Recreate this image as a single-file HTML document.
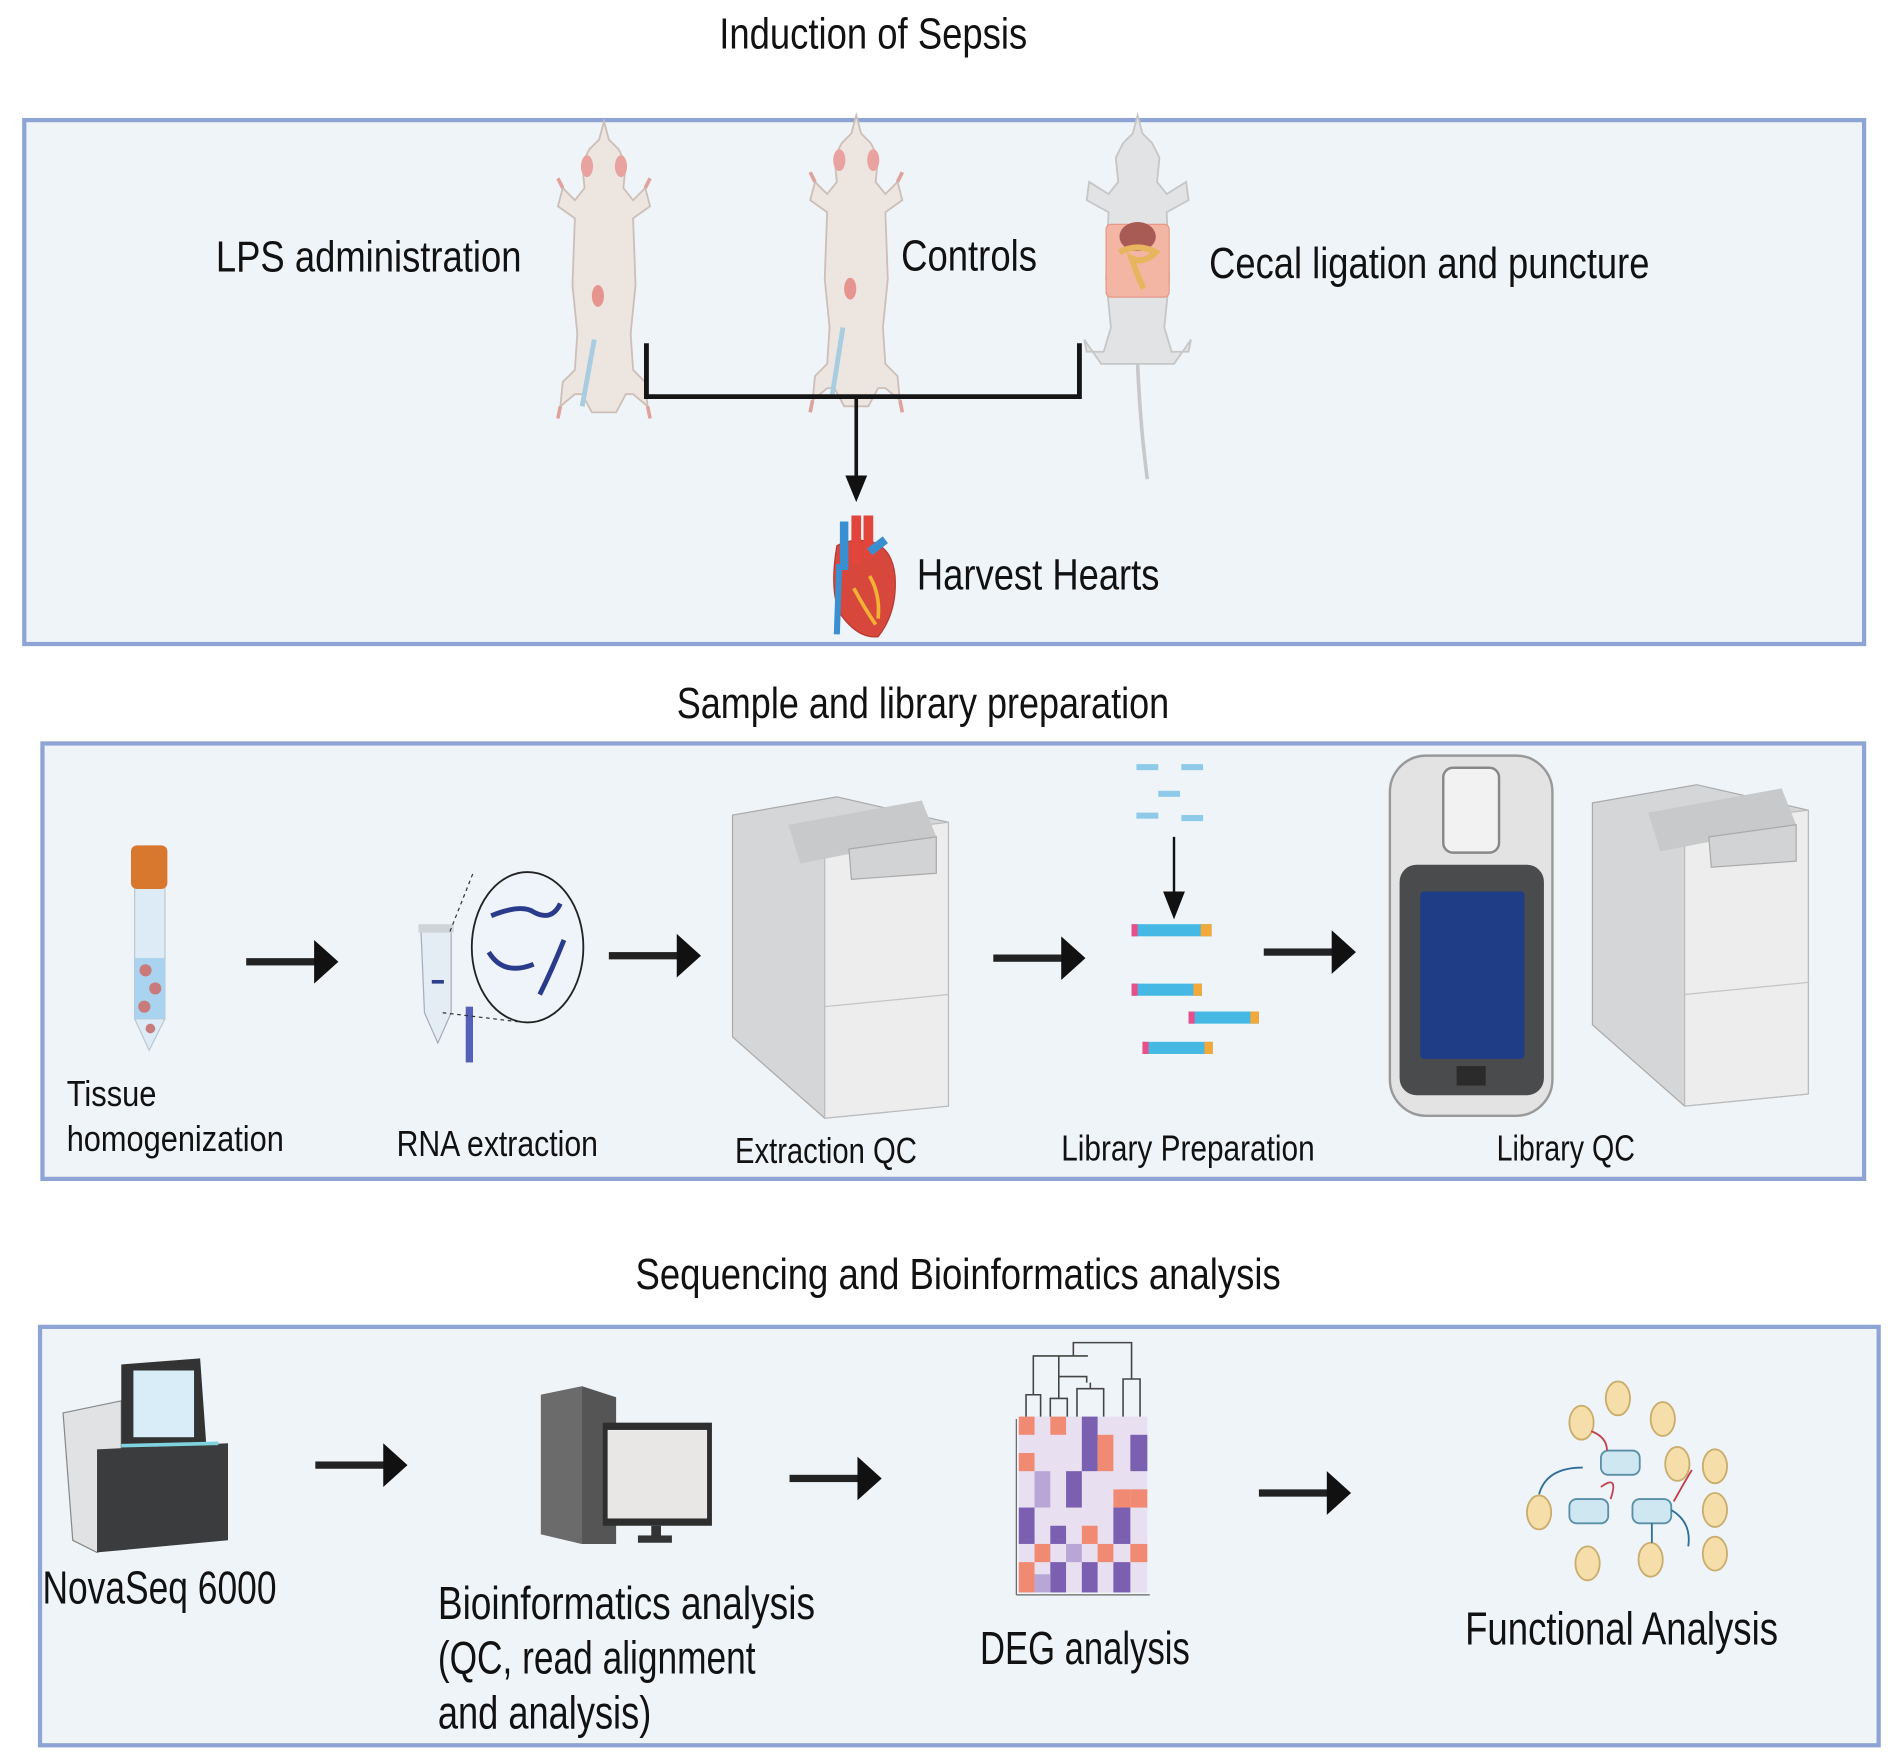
<!DOCTYPE html>
<html><head><meta charset="utf-8"><style>html,body{margin:0;padding:0;background:#fff}svg{display:block}text{font-family:"Liberation Sans Narrow","Liberation Sans",sans-serif;fill:#111}</style></head><body>
<svg width="1892" height="1763" viewBox="0 0 1560 1453.6" xmlns="http://www.w3.org/2000/svg">
<defs>
<g id="arr"><rect x="0" y="-3" width="60" height="6" fill="#222"/><path d="M56,-18 L76,0 L56,18 z" fill="#111"/></g>
<g id="mouse">
<path d="M0,-95 L-4,-80 L-12,-72 L-18,-60 L-16,-40 L-24,-30 L-34,-40 L-38,-25 L-24,-15 L-26,40 L-22,80 L-24,110 L-34,120 L-36,140 L-24,130 L-18,130 L-10,145 L10,145 L18,130 L24,130 L36,140 L34,120 L24,110 L22,80 L26,40 L24,-15 L38,-25 L34,-40 L24,-30 L16,-40 L18,-60 L12,-72 L4,-80 z" fill="#ece5e0" stroke="#cdbfb8" stroke-width="1.5"/>
<ellipse cx="-14" cy="-58" rx="5" ry="9" fill="#e8a3a0"/><ellipse cx="14" cy="-58" rx="5" ry="9" fill="#e8a3a0"/>
<path d="M-34,-40 L-38,-48 M34,-40 L38,-48 M-36,140 L-38,150 M36,140 L38,150" stroke="#e0a29c" stroke-width="3"/>
</g>
</defs>
<rect width="1560" height="1453.6" fill="#fff"/>
<!-- box 1 -->
<rect x="20" y="99" width="1517" height="432" fill="#eff4f9" stroke="#8ea4d4" stroke-width="3.5"/>
<text x="720" y="40" font-size="36" text-anchor="middle" textLength="254" lengthAdjust="spacingAndGlyphs">Induction of Sepsis</text>
<text x="178" y="224" font-size="36" textLength="252" lengthAdjust="spacingAndGlyphs">LPS administration</text>
<text x="743" y="223" font-size="36" textLength="112" lengthAdjust="spacingAndGlyphs">Controls</text>
<text x="997" y="229" font-size="36" textLength="363" lengthAdjust="spacingAndGlyphs">Cecal ligation and puncture</text>
<text x="756" y="486" font-size="36" textLength="200" lengthAdjust="spacingAndGlyphs">Harvest Hearts</text>
<use href="#mouse" x="498" y="195"/>
<ellipse cx="493" cy="244" rx="5" ry="9" fill="#e59490"/>
<line x1="490" y1="280" x2="480" y2="335" stroke="#a9cde0" stroke-width="4"/>
<use href="#mouse" x="706" y="190"/>
<ellipse cx="701" cy="238" rx="5" ry="9" fill="#e59490"/>
<line x1="695" y1="270" x2="686" y2="327" stroke="#a9cde0" stroke-width="4"/>
<g transform="translate(938,190)">
<path d="M0,-95 L-4,-80 L-12,-72 L-18,-60 L-16,-40 L-24,-30 L-40,-40 L-42,-25 L-24,-15 L-26,40 L-22,80 L-28,100 L-42,100 L-44,90 L-30,110 L-10,110 L10,110 L30,110 L44,90 L42,100 L28,100 L22,80 L26,40 L24,-15 L42,-25 L40,-40 L24,-30 L16,-40 L18,-60 L12,-72 L4,-80 z" fill="#e2e3e4" stroke="#c6c6c6" stroke-width="1.5"/>
<rect x="-26" y="-5" width="52" height="60" rx="4" fill="#f3b6a5" stroke="#e59a86"/>
<ellipse cx="0" cy="5" rx="15" ry="12" fill="#a85a55"/>
<path d="M-15,18 q15,-8 30,0 q-10,10 -20,5 q5,15 10,25" stroke="#e9b45e" stroke-width="5" fill="none"/>
<path d="M0,110 Q2,160 8,205" stroke="#c8c8c8" stroke-width="3" fill="none"/>
</g>
<path d="M533,283 V327 H890 V283" fill="none" stroke="#151515" stroke-width="4"/>
<line x1="706" y1="327" x2="706" y2="394" stroke="#151515" stroke-width="3"/>
<path d="M697,392 L715,392 L706,414 z" fill="#111"/>
<g transform="translate(712,475)">
<path d="M-22,-25 Q-28,10 -20,30 Q-5,52 12,50 Q28,30 26,0 Q24,-22 8,-28 Q-10,-32 -22,-25 z" fill="#d8473c" stroke="#b33a30"/>
<path d="M-6,-50 L-6,-10 M4,-50 L4,-15" stroke="#e2453b" stroke-width="8"/>
<path d="M-16,-45 L-16,-5 M18,-30 L5,-20" stroke="#3a8fd0" stroke-width="7"/>
<path d="M-20,-10 L-22,48" stroke="#3a8fd0" stroke-width="5"/>
<path d="M-8,10 Q0,25 10,40 M5,0 Q14,15 12,35" stroke="#f2b233" stroke-width="3" fill="none"/>
</g>
<!-- box 2 -->
<rect x="35" y="613" width="1502" height="359" fill="#eff4f9" stroke="#8ea4d4" stroke-width="3.5"/>
<text x="761" y="592" font-size="36" text-anchor="middle" textLength="406" lengthAdjust="spacingAndGlyphs">Sample and library preparation</text>
<text x="55" y="912" font-size="30" textLength="74" lengthAdjust="spacingAndGlyphs">Tissue</text>
<text x="55" y="949" font-size="30" textLength="179" lengthAdjust="spacingAndGlyphs">homogenization</text>
<text x="327" y="953" font-size="30" textLength="166" lengthAdjust="spacingAndGlyphs">RNA extraction</text>
<text x="606" y="959" font-size="30" textLength="150" lengthAdjust="spacingAndGlyphs">Extraction QC</text>
<text x="875" y="957" font-size="30" textLength="209" lengthAdjust="spacingAndGlyphs">Library Preparation</text>
<text x="1234" y="957" font-size="30" textLength="114" lengthAdjust="spacingAndGlyphs">Library QC</text>
<!-- tube -->
<rect x="111" y="730" width="25" height="110" fill="#dcebf5" stroke="#bcc8d0"/>
<path d="M111,840 L123,866 L136,840 z" fill="#dcebf5" stroke="#bcc8d0"/>
<rect x="111" y="790" width="25" height="50" fill="#a9d3ee"/>
<circle cx="120" cy="800" r="5" fill="#c97b7b"/><circle cx="128" cy="815" r="5" fill="#c97b7b"/><circle cx="119" cy="830" r="5" fill="#c97b7b"/><circle cx="124" cy="848" r="4" fill="#c97b7b"/>
<rect x="108" y="697" width="30" height="36" rx="5" fill="#d8782f"/>
<use href="#arr" x="203" y="793"/>
<!-- RNA -->
<path d="M347,765 L372,765 L372,835 L361,860 L350,835 z" fill="#e4edf3" stroke="#aab"/>
<rect x="345" y="762" width="29" height="7" fill="#cfd4d8"/>
<rect x="356" y="808" width="10" height="3" fill="#2f3f8c"/>
<rect x="384" y="830" width="6" height="46" fill="#5560b8"/>
<ellipse cx="435" cy="781" rx="46" ry="62" fill="#eef4f9" stroke="#222" stroke-width="1.5"/>
<path d="M371,768 L390,720 M365,835 L432,843" stroke="#333" stroke-dasharray="3,3"/>
<path d="M405,755 Q430,745 440,752 Q455,760 462,745" stroke="#2b3b8c" stroke-width="4" fill="none"/>
<path d="M403,785 Q415,805 440,795 M445,820 Q455,800 465,775" stroke="#2b3b8c" stroke-width="4" fill="none"/>
<use href="#arr" x="502" y="788"/>
<!-- QC machine -->
<g id="mach">
<path d="M604,672 L690,657 L782,678 L782,912 L680,922 L604,855 z" fill="#d5d6d8" stroke="#aaa"/>
<path d="M680,690 L782,678 L782,912 L680,922 z" fill="#ededee" stroke="#bbb"/>
<path d="M650,680 L760,660 L772,690 L660,712 z" fill="#c8c9cb"/>
<path d="M700,700 L772,690 L772,720 L702,725 z" fill="#d2d3d5" stroke="#aaa"/>
<line x1="680" y1="830" x2="782" y2="820" stroke="#c5c5c5"/>
</g>
<use href="#arr" x="819" y="790"/>
<!-- library prep -->
<g fill="#8fcbe8"><rect x="937" y="630" width="18" height="5"/><rect x="974" y="630" width="18" height="5"/><rect x="955" y="652" width="18" height="5"/><rect x="937" y="670" width="18" height="5"/><rect x="974" y="672" width="18" height="5"/></g>
<line x1="968" y1="690" x2="968" y2="738" stroke="#111" stroke-width="2"/>
<path d="M959,735 L977,735 L968,758 z" fill="#111"/>
<g><rect x="933" y="762" width="66" height="10" fill="#45b9e3"/><rect x="933" y="762" width="5" height="10" fill="#e94e8a"/><rect x="990" y="762" width="9" height="10" fill="#f2a93a"/></g>
<g><rect x="933" y="811" width="58" height="10" fill="#45b9e3"/><rect x="933" y="811" width="5" height="10" fill="#e94e8a"/><rect x="984" y="811" width="7" height="10" fill="#f2a93a"/></g>
<g><rect x="980" y="834" width="58" height="10" fill="#45b9e3"/><rect x="980" y="834" width="5" height="10" fill="#e94e8a"/><rect x="1031" y="834" width="7" height="10" fill="#f2a93a"/></g>
<g><rect x="942" y="859" width="58" height="10" fill="#45b9e3"/><rect x="942" y="859" width="5" height="10" fill="#e94e8a"/><rect x="993" y="859" width="7" height="10" fill="#f2a93a"/></g>
<use href="#arr" x="1042" y="785"/>
<!-- handheld -->
<rect x="1146" y="623" width="134" height="297" rx="30" fill="#e3e3e3" stroke="#999" stroke-width="2"/>
<rect x="1190" y="633" width="46" height="70" rx="8" fill="#f2f2f2" stroke="#888" stroke-width="2"/>
<rect x="1154" y="713" width="119" height="190" rx="14" fill="#4a4b4c"/>
<rect x="1171" y="735" width="86" height="138" rx="3" fill="#1f3c87"/>
<rect x="1201" y="879" width="24" height="16" fill="#2b2b2b"/>
<use href="#mach" transform="translate(709,-10)"/>
<!-- box 3 -->
<rect x="33" y="1094" width="1516" height="345" fill="#eff4f9" stroke="#8ea4d4" stroke-width="3.5"/>
<text x="790" y="1063" font-size="36" text-anchor="middle" textLength="532" lengthAdjust="spacingAndGlyphs">Sequencing and Bioinformatics analysis</text>
<text x="35" y="1322" font-size="38" textLength="193" lengthAdjust="spacingAndGlyphs">NovaSeq 6000</text>
<text x="361" y="1335" font-size="38" textLength="311" lengthAdjust="spacingAndGlyphs">Bioinformatics analysis</text>
<text x="361" y="1380" font-size="38" textLength="262" lengthAdjust="spacingAndGlyphs">(QC, read alignment</text>
<text x="361" y="1425" font-size="38" textLength="176" lengthAdjust="spacingAndGlyphs">and analysis)</text>
<text x="808" y="1372" font-size="38" textLength="173" lengthAdjust="spacingAndGlyphs">DEG analysis</text>
<text x="1208" y="1356" font-size="38" textLength="258" lengthAdjust="spacingAndGlyphs">Functional Analysis</text>
<!-- sequencer -->
<path d="M52,1165 L100,1155 L100,1270 L80,1280 L60,1270 z" fill="#e0e2e4" stroke="#888"/>
<path d="M100,1125 L165,1120 L170,1190 L100,1195 z" fill="#333"/>
<rect x="110" y="1130" width="50" height="55" fill="#d8edf8"/>
<path d="M80,1195 L188,1190 L188,1270 L80,1280 z" fill="#3b3c3e"/>
<line x1="100" y1="1192" x2="180" y2="1190" stroke="#7fd3e0" stroke-width="3"/>
<use href="#arr" x="260" y="1208"/>
<!-- computer -->
<path d="M446,1150 L480,1143 L508,1152 L508,1273 L480,1273 L446,1265 z" fill="#555"/>
<path d="M446,1150 L480,1143 L480,1273 L446,1265 z" fill="#6b6b6b"/>
<rect x="497" y="1173" width="90" height="85" fill="#2e2e2e"/>
<rect x="501" y="1179" width="82" height="73" fill="#e9e6e6"/>
<rect x="537" y="1258" width="8" height="10" fill="#333"/><rect x="526" y="1266" width="28" height="6" fill="#333"/>
<use href="#arr" x="651" y="1219"/>
<!-- heatmap -->
<rect x="840" y="1168" width="106" height="145" fill="#e8e0f0"/>
<g>
<rect x="840" y="1168" width="13" height="15" fill="#f08a72"/><rect x="866" y="1168" width="13" height="15" fill="#f08a72"/><rect x="892" y="1168" width="13" height="45" fill="#7b5fb0"/><rect x="905" y="1183" width="13" height="30" fill="#f08a72"/><rect x="932" y="1183" width="14" height="30" fill="#7b5fb0"/>
<rect x="840" y="1198" width="13" height="15" fill="#f08a72"/><rect x="853" y="1213" width="13" height="30" fill="#b8a6d6"/><rect x="879" y="1213" width="13" height="30" fill="#7b5fb0"/><rect x="918" y="1228" width="14" height="15" fill="#f08a72"/><rect x="932" y="1228" width="14" height="15" fill="#f08a72"/>
<rect x="840" y="1243" width="13" height="30" fill="#7b5fb0"/><rect x="866" y="1258" width="13" height="15" fill="#7b5fb0"/><rect x="892" y="1258" width="13" height="15" fill="#f08a72"/><rect x="918" y="1243" width="14" height="30" fill="#7b5fb0"/>
<rect x="853" y="1273" width="13" height="15" fill="#f08a72"/><rect x="879" y="1273" width="13" height="15" fill="#b8a6d6"/><rect x="905" y="1273" width="13" height="15" fill="#f08a72"/><rect x="932" y="1273" width="14" height="15" fill="#f08a72"/>
<rect x="840" y="1288" width="13" height="25" fill="#f08a72"/><rect x="866" y="1288" width="13" height="25" fill="#7b5fb0"/><rect x="892" y="1288" width="13" height="25" fill="#7b5fb0"/><rect x="918" y="1288" width="14" height="25" fill="#7b5fb0"/><rect x="853" y="1298" width="13" height="15" fill="#b8a6d6"/>
</g>
<path d="M846,1168 V1150 H858 V1168 M852,1150 V1118 H873 V1135 M866,1168 V1153 H880 V1168 M873,1153 V1135 H896 V1140 M888,1168 V1145 H910 V1168 M899,1145 V1140 M885,1118 V1107 H933 V1137 M926,1168 V1137 H940 V1168 M873,1118 H897" fill="none" stroke="#444" stroke-width="1.3"/>
<line x1="838" y1="1170" x2="838" y2="1315" stroke="#666"/>
<line x1="838" y1="1315" x2="948" y2="1315" stroke="#666"/>
<use href="#arr" x="1038" y="1231"/>
<!-- network -->
<g fill="#f5deaa" stroke="#c9ad6c" stroke-width="1.5">
<ellipse cx="1334" cy="1153" rx="10" ry="14"/><ellipse cx="1304" cy="1173" rx="10" ry="14"/><ellipse cx="1371" cy="1170" rx="10" ry="14"/>
<ellipse cx="1383" cy="1207" rx="10" ry="14"/><ellipse cx="1414" cy="1209" rx="10" ry="14"/><ellipse cx="1414" cy="1245" rx="10" ry="14"/>
<ellipse cx="1269" cy="1247" rx="10" ry="14"/><ellipse cx="1414" cy="1281" rx="10" ry="14"/><ellipse cx="1309" cy="1289" rx="10" ry="14"/><ellipse cx="1361" cy="1286" rx="10" ry="14"/>
</g>
<g fill="#cfe7f0" stroke="#5a8fa8" stroke-width="1.5">
<rect x="1320" y="1196" width="32" height="20" rx="6"/><rect x="1294" y="1236" width="32" height="20" rx="6"/><rect x="1346" y="1236" width="32" height="20" rx="6"/>
</g>
<path d="M1269,1232 Q1275,1210 1305,1210 M1378,1245 Q1395,1255 1392,1275 M1362,1256 V1272" fill="none" stroke="#2f6d9a" stroke-width="1.5"/>
<path d="M1312,1180 Q1325,1185 1325,1196 M1328,1236 Q1335,1215 1320,1226 M1380,1238 Q1390,1220 1395,1212" fill="none" stroke="#c2404a" stroke-width="1.5"/>
</svg>
</body></html>
